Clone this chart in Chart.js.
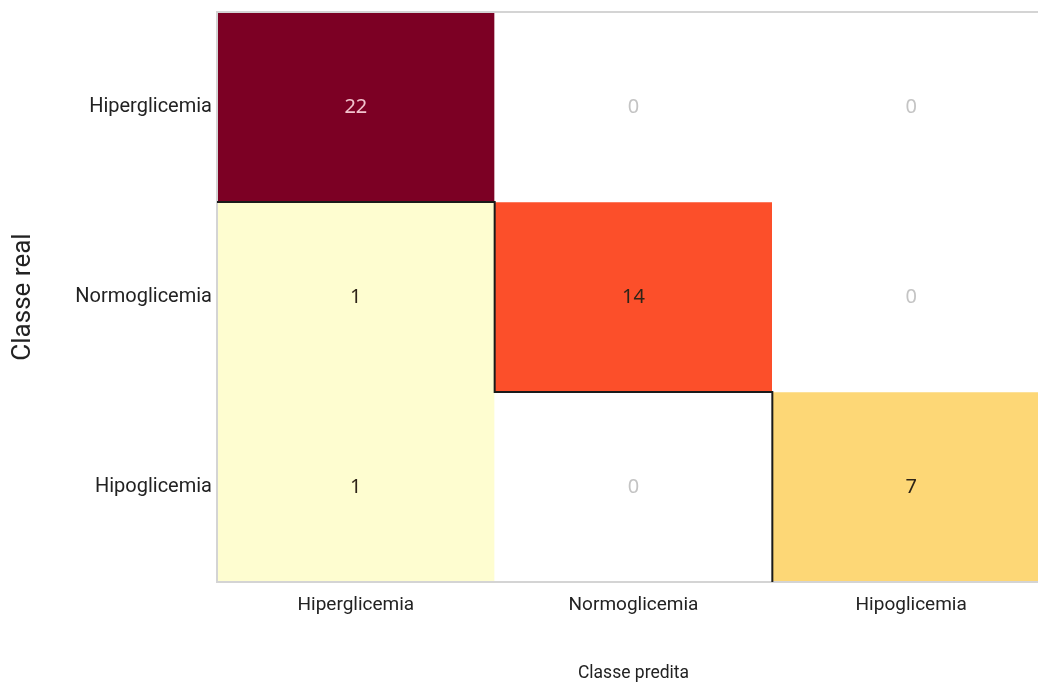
<!DOCTYPE html>
<html>
<head>
<meta charset="utf-8">
<script src="https://cdn.jsdelivr.net/npm/chart.js@4.4.1/dist/chart.umd.min.js"></script>
<style>
  html, body { margin: 0; padding: 0; background: #fff; overflow: hidden; }
  #wrap { width: 1050px; height: 684px; }
</style>
</head>
<body>
<div id="wrap"><canvas id="cm" width="1050" height="684"></canvas></div>
<script>
// Confusion matrix: rows = real class, columns = predicted class
const classes = ['Hiperglicemia', 'Normoglicemia', 'Hipoglicemia'];
const rowHiper  = [22, 0, 0];
const rowNormo  = [1, 14, 0];
const rowHipo   = [1, 0, 7];
const matrix = [rowHiper, rowNormo, rowHipo];

// YlOrRd as a 9-step listed colormap; zero counts stay white
const ylOrRd = ['#fefdd0', '#ffeda0', '#fdd776', '#feb24c', '#fd8d3c', '#fc4f2a', '#e31a1c', '#bd0026', '#7c0024'];
const maxCount = Math.max(...matrix.flat());
function cellColor(v) {
  if (v === 0) return '#ffffff';
  const idx = Math.min(ylOrRd.length - 1, Math.floor(v / maxCount * ylOrRd.length));
  return ylOrRd[idx];
}
function textColor(v) {
  if (v === 0) return '#c4c4c4';
  if (v === maxCount) return '#f1c3cd';
  return '#2e2418';
}

const datasets = matrix.map((row, r) => ({
  label: classes[r],
  data: row.map(() => [r, r + 1]),
  backgroundColor: row.map(cellColor),
  borderWidth: 0,
  grouped: false,
  barPercentage: 1,
  categoryPercentage: 1
}));

// Count text in the middle of each cell
const cellText = {
  id: 'cellText',
  afterDatasetsDraw(chart) {
    const { ctx, scales: { x, y } } = chart;
    ctx.save();
    ctx.font = '20px "Noto Sans", Roboto, sans-serif';
    ctx.textAlign = 'center';
    ctx.textBaseline = 'middle';
    matrix.forEach((row, r) => {
      row.forEach((v, c) => {
        ctx.fillStyle = textColor(v);
        ctx.fillText(String(v), x.getPixelForValue(c), y.getPixelForValue(r + 0.5));
      });
    });
    ctx.restore();
  }
};

// Plot frame and the staircase outline along the diagonal
const frame = {
  id: 'frame',
  afterDraw(chart) {
    const { ctx, chartArea: a, scales: { x, y } } = chart;
    ctx.save();
    ctx.strokeStyle = '#d4d4d4';
    ctx.lineWidth = 2;
    ctx.beginPath();
    ctx.moveTo(a.right + 2, a.top);
    ctx.lineTo(a.left, a.top);
    ctx.lineTo(a.left, a.bottom);
    ctx.lineTo(a.right + 2, a.bottom);
    ctx.stroke();

    ctx.strokeStyle = '#1a1a1a';
    ctx.lineWidth = 2;
    ctx.beginPath();
    ctx.moveTo(a.left, y.getPixelForValue(1));
    ctx.lineTo(x.getPixelForValue(0.5), y.getPixelForValue(1));
    ctx.lineTo(x.getPixelForValue(0.5), y.getPixelForValue(2));
    ctx.lineTo(x.getPixelForValue(1.5), y.getPixelForValue(2));
    ctx.lineTo(x.getPixelForValue(1.5), y.getPixelForValue(3));
    ctx.stroke();
    ctx.restore();
  }
};

new Chart(document.getElementById('cm'), {
  type: 'bar',
  data: { labels: classes, datasets },
  options: {
    responsive: false,
    animation: false,
    layout: { padding: { top: 12, right: 0, left: 0, bottom: 0 } },
    plugins: { legend: { display: false }, tooltip: { enabled: false } },
    scales: {
      x: {
        type: 'category',
        offset: true,
        grid: { display: false, drawTicks: false },
        border: { display: false },
        ticks: {
          padding: 12,
          color: '#222',
          font: { family: 'Roboto, "Noto Sans", sans-serif', size: 19 }
        },
        title: {
          display: true,
          text: 'Classe predita',
          color: '#222',
          font: { family: 'Roboto, "Noto Sans", sans-serif', size: 17.5 },
          padding: { top: 0, bottom: 0 }
        },
        afterFit(scale) {
          scale.height = 102;
          scale.paddingLeft = 0;
          scale.paddingRight = 0;
        }
      },
      y: {
        type: 'linear',
        min: 0,
        max: 3,
        reverse: true,
        grid: { display: false, drawTicks: false },
        border: { display: false },
        afterBuildTicks(scale) {
          scale.ticks = classes.map((_, i) => ({ value: i + 0.5 }));
        },
        ticks: {
          padding: 5,
          color: '#222',
          font: { family: 'Roboto, "Noto Sans", sans-serif', size: 20 },
          callback: (v) => classes[Math.floor(v)]
        },
        title: {
          display: true,
          text: 'Classe real',
          color: '#222',
          font: { family: 'Roboto, "Noto Sans", sans-serif', size: 26 },
          padding: { top: 8, bottom: 0 }
        },
        afterFit(scale) {
          scale.width = 217;
          scale.paddingTop = 0;
          scale.paddingBottom = 0;
        }
      }
    }
  },
  plugins: [cellText, frame]
});
</script>
</body>
</html>
